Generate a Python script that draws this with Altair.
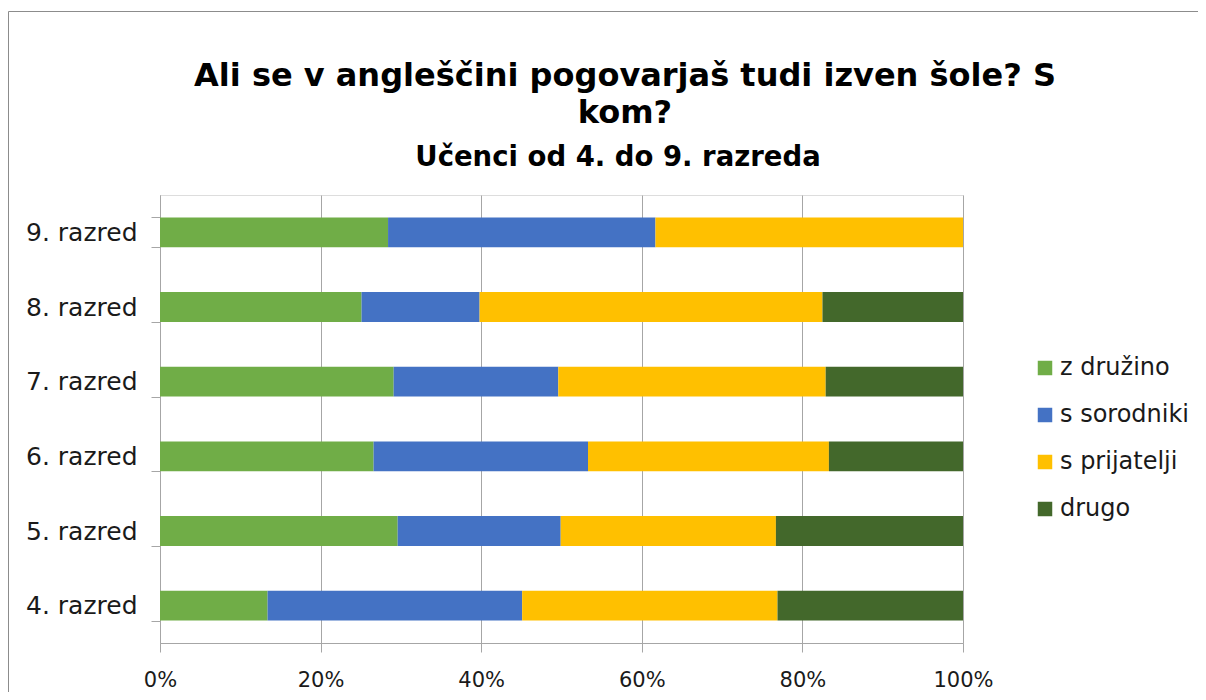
import altair as alt
import pandas as pd

razredi = ["9. razred", "8. razred", "7. razred", "6. razred", "5. razred", "4. razred"]
skupine = ["z družino", "s sorodniki", "s prijatelji", "drugo"]
z_druzino = [28.4, 25.1, 29.1, 26.6, 29.6, 13.4]
s_sorodniki = [33.3, 14.7, 20.5, 26.7, 20.3, 31.7]
s_prijatelji = [38.3, 42.7, 33.3, 30.0, 26.8, 31.8]
drugo = [0.0, 17.5, 17.1, 16.7, 23.3, 23.1]
barve = ["#70AD47", "#4472C4", "#FFC000", "#43682B"]
x_ticks = [0, 0.2, 0.4, 0.6, 0.8, 1.0]
naslov = ["Ali se v angleščini pogovarjaš tudi izven šole? S", "kom?"]
podnaslov = "Učenci od 4. do 9. razreda"

rows = []
for i, r in enumerate(razredi):
    for j, (s, vals) in enumerate(zip(skupine, [z_druzino, s_sorodniki, s_prijatelji, drugo])):
        rows.append({"razred": r, "skupina": s, "vrednost": vals[i], "red": j})
df = pd.DataFrame(rows)

FONT = "DejaVu Sans"

bars = alt.Chart(df).mark_bar().encode(
    y=alt.Y("razred:N", sort=razredi, title=None,
            scale=alt.Scale(paddingInner=0.6, paddingOuter=0.3),
            axis=alt.Axis(tickBand="extent", tickSize=9, tickColor="#a6a6a6",
                          domainColor="#a6a6a6", labelPadding=14, labelFontSize=25,
                          labelColor="#1a1a1a", labelFont=FONT, grid=False)),
    x=alt.X("vrednost:Q", stack="normalize", title=None,
            scale=alt.Scale(domain=[0, 1]),
            axis=alt.Axis(values=x_ticks, format="%", tickSize=9, tickColor="#a6a6a6",
                          domainColor="#a6a6a6", gridColor="#a6a6a6", grid=True,
                          labelFlush=False, labelBound=False,
                          labelPadding=17, labelFontSize=21, labelColor="#1a1a1a",
                          labelFont=FONT)),
    color=alt.Color("skupina:N", sort=skupine,
                    scale=alt.Scale(domain=skupine, range=barve),
                    legend=alt.Legend(title=None, orient="none", legendX=873, legendY=161,
                                      symbolType="square", symbolSize=210,
                                      symbolStrokeWidth=0, labelFontSize=24,
                                      labelFont=FONT, labelColor="#1a1a1a",
                                      rowPadding=23, labelOffset=3)),
    order=alt.Order("red:Q"),
)

frame = alt.Chart(pd.DataFrame({"a": [0]})).mark_rect(
    fillOpacity=0, stroke="#8c8c8c", strokeWidth=1
).encode(x=alt.value(-151.5), x2=alt.value(1100), y=alt.value(-183.5), y2=alt.value(700))

title_df = pd.DataFrame({
    "t": [naslov[0], naslov[1], podnaslov],
    "vrsta": ["n1", "n2", "p"],
})
base_t = alt.Chart(title_df).mark_text(font=FONT, fontWeight="bold", color="#000000",
                                       align="center", baseline="alphabetic")
t1 = base_t.transform_filter(alt.datum.vrsta == "n1").encode(
    text="t:N", x=alt.value(465), y=alt.value(-109), size=alt.value(32))
t2 = base_t.transform_filter(alt.datum.vrsta == "n2").encode(
    text="t:N", x=alt.value(465), y=alt.value(-72), size=alt.value(32))
t3 = base_t.transform_filter(alt.datum.vrsta == "p").encode(
    text="t:N", x=alt.value(458), y=alt.value(-29), size=alt.value(27.5))

chart = alt.layer(frame, bars, t1, t2, t3).properties(
    width=803, height=448,
    autosize=alt.AutoSizeParams(type="none"),
    padding={"left": 152, "top": 187, "right": 235, "bottom": 49},
).configure_view(stroke=None).configure(background="white")

chart.save("out.html", embed_options={"renderer": "svg", "actions": False})
